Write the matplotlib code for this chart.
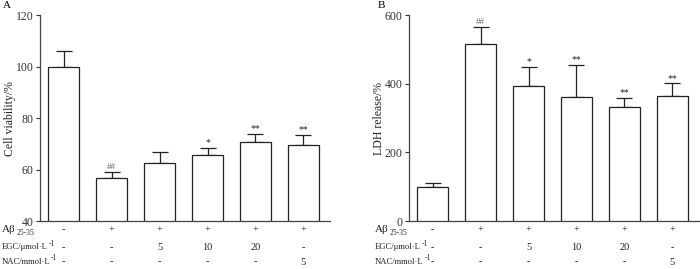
import matplotlib
matplotlib.use('Agg')
import matplotlib.pyplot as plt
import matplotlib.transforms as mtransforms
import numpy as np

plt.rcParams['font.family'] = ['Liberation Serif', 'DejaVu Serif']

# group settings (rows under the bars)
abeta = ['-', '+', '+', '+', '+', '+']
egc = ['-', '-', '5', '10', '20', '-']
nac = ['-', '-', '-', '-', '-', '5']

# panel A: cell viability
viab = [100, 56.8, 62.6, 65.5, 70.9, 69.4]
viab_err = [5.9, 2.2, 4.2, 2.9, 3.0, 4.0]
viab_sig = ['', '##', '', '*', '**', '**']

# panel B: LDH release
ldh = [98, 517, 393, 360, 332, 365]
ldh_err = [14, 49, 57, 95, 27, 36]
ldh_sig = ['', '##', '*', '**', '**', '**']

row_y = [0.145, 0.080, 0.026]

fig = plt.figure(figsize=(7, 2.69), dpi=100)
axA = fig.add_axes([0.057, 0.178, 0.414, 0.766])
axB = fig.add_axes([0.584, 0.178, 0.414, 0.766])


def draw(ax, vals, errs, sig, ylim, yticks, ylabel):
    x = np.arange(len(vals))
    ax.bar(x, np.array(vals) - ylim[0], bottom=ylim[0], width=0.65,
           color='white', edgecolor='#222222', linewidth=0.9, zorder=3)
    ax.errorbar(x, vals, yerr=[np.zeros(len(vals)), errs], fmt='none',
                ecolor='#222222', elinewidth=0.9, capsize=5.8, capthick=0.9,
                zorder=2)
    for i, s in enumerate(sig):
        if s:
            col = '#666666' if s == '##' else '#222222'
            ax.annotate(s, (x[i], vals[i] + errs[i]), xytext=(0, 0.5),
                        textcoords='offset points', ha='center', va='bottom',
                        fontsize=7 if s != '##' else 6.5, color=col)
    ax.set_xlim(-0.5, 5.55)
    ax.set_ylim(*ylim)
    ax.set_yticks(yticks)
    ax.set_xticks([])
    ax.spines['top'].set_visible(False)
    ax.spines['right'].set_visible(False)
    for sp in ['left', 'bottom']:
        ax.spines[sp].set_color('#444444')
        ax.spines[sp].set_linewidth(0.9)
    ax.tick_params(axis='y', direction='out', length=3, width=0.8,
                   labelsize=8.5, colors='#333333', pad=1.5)
    ax.set_ylabel(ylabel, fontsize=8.5, labelpad=0, color='#222222')
    # rows of treatment labels
    trans = mtransforms.blended_transform_factory(ax.transData, fig.transFigure)
    for row, yf in zip([abeta, egc, nac], row_y):
        for i, t in enumerate(row):
            ax.text(x[i], yf, t, transform=trans, ha='center', va='center',
                    fontsize=7.5, color='#222222')


draw(axA, viab, viab_err, viab_sig, (40, 120), [40, 60, 80, 100, 120],
     'Cell viability/%')
draw(axB, ldh, ldh_err, ldh_sig, (0, 600), [0, 200, 400, 600],
     'LDH release/%')

# row labels: main text plus a small sub/superscript after it
row_labels = [('Aβ', '25-35', 0.22, 8), ('EGC/μmol·L', '-1', 0.95, 6.2),
              ('NAC/mmol·L', '-1', 0.95, 6.2)]
for x0 in [0.003, 0.536]:
    for (lab, extra, yy, fs), yf in zip(row_labels, row_y):
        t = fig.text(x0, yf, lab, ha='left', va='center', fontsize=fs,
                     color='#222222')
        axA.annotate(extra, xy=(1, yy), xycoords=t, xytext=(0.3, 0),
                     textcoords='offset points', ha='left', va='center',
                     fontsize=5.5, color='#222222', annotation_clip=False)

fig.text(0.004, 0.995, 'A', ha='left', va='top', fontsize=8)
fig.text(0.540, 0.995, 'B', ha='left', va='top', fontsize=8)

fig.savefig('out.png', dpi=100)
